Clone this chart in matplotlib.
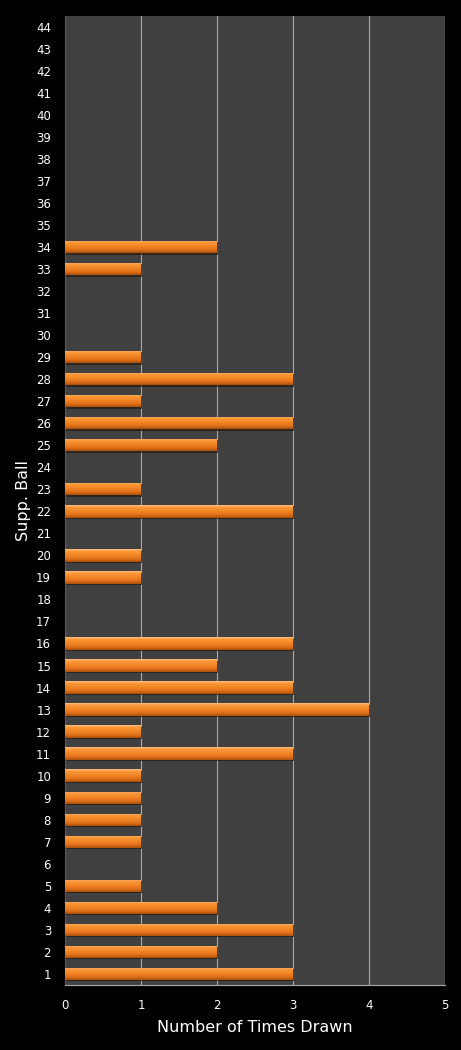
import numpy as np
from matplotlib import pyplot as plt
from matplotlib.colors import LinearSegmentedColormap

# supplementary ball numbers and how often each was drawn
balls = list(range(1, 45))
drawn = [3, 2, 3, 2, 1, 0, 1, 1, 1, 1,
         3, 1, 4, 3, 2, 3, 0, 0, 1, 1,
         0, 3, 1, 0, 2, 3, 1, 3, 1, 0,
         0, 0, 1, 2, 0, 0, 0, 0, 0, 0,
         0, 0, 0, 0]

fig = plt.figure(figsize=(4.61, 10.5), dpi=100, facecolor='black')
ax = fig.add_axes([0.141, 0.062, 0.824, 0.923])
ax.set_facecolor('#404040')

y = np.array(balls)
v = np.array(drawn, dtype=float)
keep = v > 0

# shadow under each bar
ax.barh(y[keep] - 0.06, v[keep] + 0.02, height=0.56, color='#2A1A0E', alpha=0.7,
        linewidth=0, zorder=2)
bars = ax.barh(y[keep], v[keep], height=0.56, color='#F08020', linewidth=0, zorder=3)

# vertical gradient inside each bar (light top, darker bottom)
grad = LinearSegmentedColormap.from_list('bar', [(0.0, '#A8500C'), (0.25, '#E2721A'),
                                                 (0.6, '#F58A28'), (0.85, '#F99A40'),
                                                 (1.0, '#FFC080')])
g = np.linspace(0, 1, 64).reshape(-1, 1)
for b in bars:
    x0, y0 = b.get_x(), b.get_y()
    im = ax.imshow(g, cmap=grad, aspect='auto', origin='lower', zorder=4,
                   extent=(x0, x0 + b.get_width(), y0, y0 + b.get_height()),
                   interpolation='bilinear')
    im.set_clip_path(b)

ax.set_xlim(0, 5)
ax.set_ylim(0.5, 44.5)
ax.set_yticks(balls)
ax.set_yticklabels([str(b) for b in balls])
ax.set_xticks(range(6))
ax.grid(axis='x', color='#A8A8A8', linewidth=0.8, zorder=1)
ax.set_axisbelow(True)

for s in ['top', 'right']:
    ax.spines[s].set_visible(False)
ax.spines['bottom'].set_color('#A8A8A8')
ax.spines['left'].set_color('#585858')
ax.tick_params(colors='white', labelsize=8.5, length=0)
ax.tick_params(axis='y', pad=10)
ax.tick_params(axis='x', pad=10)

ax.set_xlabel('Number of Times Drawn', color='white', fontsize=11.5, labelpad=6)
ax.set_ylabel('Supp. Ball', color='white', fontsize=11.5, labelpad=4)

plt.savefig('out.png', dpi=100, facecolor='black')
